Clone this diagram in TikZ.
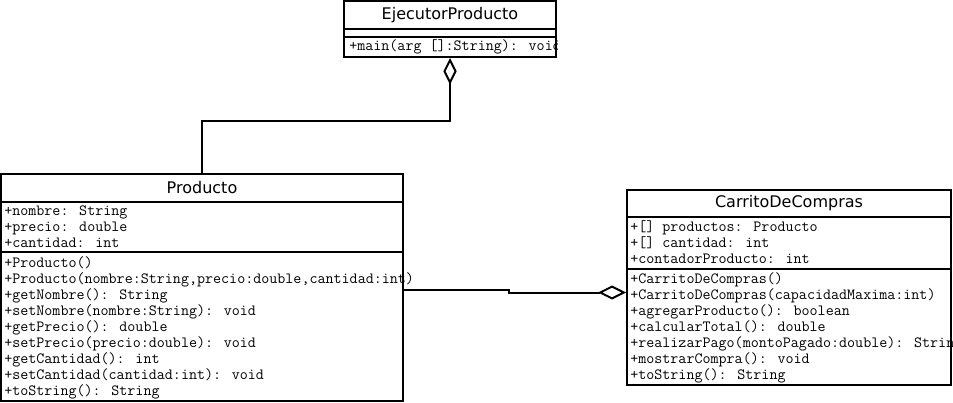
\documentclass[tikz,border=0pt]{standalone}
\usepackage{fontspec}
\newfontfamily\umlsans{DejaVu Sans}
\usetikzlibrary{arrows.meta,calc}
\begin{document}
\begin{tikzpicture}[x=0.75pt,y=-0.75pt,
  classbox/.style={draw,line width=1.5pt,inner sep=0pt,rectangle},
  classtitle/.style={font=\umlsans\fontsize{12pt}{14pt}\selectfont,inner sep=0pt},
  member/.style={font=\ttfamily\fontsize{11.7pt}{13pt}\selectfont,inner sep=0pt,anchor=base west},
  divider/.style={line width=1.5pt},
  conn/.style={line width=1.5pt},
  aggtip/.style={-{Diamond[fill=white,length=#1]}}
]
\useasboundingbox[fill=white] (0,0) rectangle (953,403);

% class frames
\node[classbox,minimum width=159pt,minimum height=42pt] (ejec) at (450,29) {};
\node[classbox,minimum width=301.5pt,minimum height=170.25pt] (prod) at (202,287.5) {};
\node[classbox,minimum width=243pt,minimum height=146.25pt] (carr) at (789,287.5) {};

% compartment dividers
\draw[divider] (ejec.west |- 0,29) -- (ejec.east |- 0,29);
\draw[divider] (ejec.west |- 0,37) -- (ejec.east |- 0,37);
\draw[divider] (prod.west |- 0,202) -- (prod.east |- 0,202);
\draw[divider] (prod.west |- 0,252) -- (prod.east |- 0,252);
\draw[divider] (carr.west |- 0,217) -- (carr.east |- 0,217);
\draw[divider] (carr.west |- 0,269) -- (carr.east |- 0,269);

% class names
\node[classtitle] (ejectitle) at (450,15) {EjecutorProducto};
\node[classtitle] (prodtitle) at (202,188) {Producto};
\node[classtitle] (carrtitle) at (789,203.5) {CarritoDeCompras};

% EjecutorProducto members (last characters run under the frame)
\begin{scope}
  \clip (ejec.north west) rectangle (ejec.south east);
  \node[member] (em1) at (349,51) {+main(arg []:String): void};
\end{scope}

% Producto members
\foreach \t [count=\i] in {{+nombre: String},{+precio: double},{+cantidad: int}}
  \node[member] (pa\i) at (4,{199+16*\i}) {\t};
\foreach \t [count=\i] in {{+Producto()},
    {+Producto(nombre:String,precio:double,cantidad:int)},
    {+getNombre(): String},{+setNombre(nombre:String): void},
    {+getPrecio(): double},{+setPrecio(precio:double): void},
    {+getCantidad(): int},{+setCantidad(cantidad:int): void},
    {+toString(): String}}
  \node[member] (pm\i) at (4,{251+16*\i}) {\t};

% CarritoDeCompras members
\begin{scope}
  \clip (carr.north west) rectangle (carr.south east);
  \foreach \t [count=\i] in {{+[] productos: Producto},{+[] cantidad: int},
      {+contadorProducto: int}}
    \node[member] (ca\i) at (630,{215+16*\i}) {\t};
  \foreach \t [count=\i] in {{+CarritoDeCompras()},
      {+CarritoDeCompras(capacidadMaxima:int)},
      {+agregarProducto(): boolean},{+calcularTotal(): double},
      {+realizarPago(montoPagado:double): String},
      {+mostrarCompra(): void},{+toString(): String}}
    \node[member] (cm\i) at (630,{267+16*\i}) {\t};
\end{scope}

% aggregations
\coordinate (elbow) at (0,121);
\draw[conn,aggtip=20pt] (prod.north) -- (prod.north |- elbow) -| (ejec.south);
\draw[conn,aggtip=21pt] ([yshift=-1.5pt]prod.east) -- ++(105,0)
  |- ([yshift=-3.75pt]carr.west);
\end{tikzpicture}
\end{document}
